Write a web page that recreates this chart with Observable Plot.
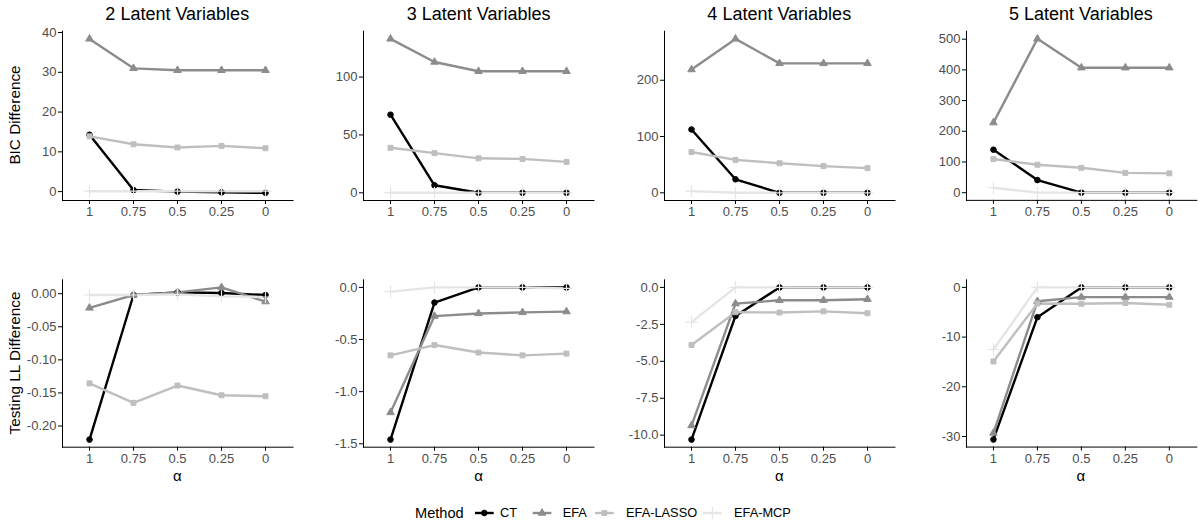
<!DOCTYPE html>
<html><head><meta charset="utf-8">
<script src="https://cdn.jsdelivr.net/npm/d3@7"></script>
<script src="https://cdn.jsdelivr.net/npm/@observablehq/plot@0.6"></script>
<style>
body{margin:0;background:#fff;}
#chart{position:relative;width:1198px;height:524px;overflow:hidden;font-family:"Liberation Sans",Arial,sans-serif;}
.panel{position:absolute;}
.panel svg{overflow:visible;}
g[aria-label$="tick label"]{fill:#4d4d4d;}
.lbl{position:absolute;white-space:nowrap;color:#000;}
</style></head>
<body><div id="chart"></div>
<script>
// ---------- data ----------
const alphaLabels = ["1", "0.75", "0.5", "0.25", "0"];
const methods = ["CT", "EFA", "EFA-LASSO", "EFA-MCP"];
const panelTitles = ["2 Latent Variables", "3 Latent Variables", "4 Latent Variables", "5 Latent Variables"];
const methodColors = ["#000000", "#8c8c8c", "#bfbfbf", "#e5e5e5"];
const methodSymbols = ["circle", "triangle", "square", "plus"];

// BIC Difference: one row per panel (2..5 latent variables), values at alpha 1, 0.75, 0.5, 0.25, 0
const bicCT = [
  [14.3, 0.4, 0.0, -0.2, -0.3],
  [67.5, 6.5, 0, 0, 0],
  [112.5, 24, 0, 0, 0],
  [140, 41, 0, 0, 0]
];
const bicEFA = [
  [38.4, 31.0, 30.5, 30.5, 30.5],
  [133, 113, 105, 105, 105],
  [219, 273.5, 230, 230, 230],
  [228, 501, 407, 407, 407]
];
const bicLASSO = [
  [13.9, 11.9, 11.1, 11.5, 10.9],
  [38.9, 34.3, 29.8, 29.3, 26.7],
  [72.5, 58.5, 52.5, 47.5, 43.8],
  [109.5, 91, 81, 64.5, 63]
];
const bicMCP = [
  [0.1, 0.1, 0.1, 0.1, 0.1],
  [0.1, 0, 0, 0, 0],
  [3, 0, 0, 0, 0],
  [16, 0, 0, 0, 0]
];

// Testing LL Difference
const llCT = [
  [-0.2205, -0.002, 0.002, 0.001, -0.002],
  [-1.46, -0.145, 0, 0, 0],
  [-10.3, -1.93, 0, 0, 0],
  [-30.6, -6.0, 0, 0, 0]
];
const llEFA = [
  [-0.0215, -0.002, 0.002, 0.0095, -0.012],
  [-1.2, -0.275, -0.25, -0.24, -0.232],
  [-9.35, -1.1, -0.87, -0.87, -0.8],
  [-29.3, -2.8, -1.95, -1.95, -1.95]
];
const llLASSO = [
  [-0.1355, -0.165, -0.1388, -0.1535, -0.155],
  [-0.652, -0.553, -0.625, -0.652, -0.635],
  [-3.9, -1.68, -1.7, -1.62, -1.75],
  [-14.9, -3.25, -3.3, -3.15, -3.5]
];
const llMCP = [
  [-0.002, -0.002, -0.001, -0.004, -0.005],
  [-0.04, 0, 0, 0, -0.01],
  [-2.35, 0, 0, 0, 0],
  [-12.5, 0, 0, 0, 0]
];

const bicTicks = [[0, 10, 20, 30, 40], [0, 50, 100], [0, 100, 200], [0, 100, 200, 300, 400, 500]];
const bicDecimals = [0, 0, 0, 0];
const llTicks = [[-0.20, -0.15, -0.10, -0.05, 0], [-1.5, -1.0, -0.5, 0], [-10, -7.5, -5, -2.5, 0], [-30, -20, -10, 0]];
const llDecimals = [2, 1, 1, 0];

const rowLabels = ["BIC Difference", "Testing LL Difference"];
const xLabel = "α";
const legendTitle = "Method";

// ---------- layout ----------
const chart = document.getElementById("chart");
const FONT = '"Liberation Sans", Arial, sans-serif';
const panelLeft = [62, 363.3, 664, 965.7];
const PW = 230.5;
const rowGeom = [
  {svgTop: 0, H: 228, top: 30.7, bottom: 200},
  {svgTop: 250, H: 240, top: 279.3, bottom: 446.7}
];

function addPanel(seriesList, ticks, dec, row, col) {
  const rows = [];
  methods.forEach((m, mi) => {
    seriesList[mi][col].forEach((v, i) => rows.push({method: m, alpha: alphaLabels[i], value: v}));
  });
  const ext = d3.extent(rows, d => d.value);
  const pad = (ext[1] - ext[0]) * 0.05;
  const g = rowGeom[row];
  const ML = 60, MR = 2;
  const plot = Plot.plot({
    width: ML + PW + MR,
    height: g.H,
    marginLeft: ML,
    marginRight: MR,
    marginTop: g.top - g.svgTop,
    marginBottom: g.svgTop + g.H - g.bottom,
    style: {fontFamily: FONT, fontSize: "13px", color: "#000", background: "none", overflow: "visible"},
    x: {type: "point", domain: alphaLabels, padding: 0.6, line: true, tickSize: 4, tickPadding: 2.5, label: null},
    y: {domain: [ext[0] - pad, ext[1] + pad], ticks: ticks, tickFormat: d => d.toFixed(dec), line: true, tickSize: 4, tickPadding: 2, label: null},
    color: {domain: methods, range: methodColors},
    symbol: {domain: methods, range: methodSymbols},
    marks: [
      Plot.lineY(rows, {x: "alpha", y: "value", stroke: "method", z: "method", strokeWidth: 2.4}),
      Plot.dot(rows.filter(d => d.method !== "EFA-MCP"), {x: "alpha", y: "value", fill: "method", stroke: "method", symbol: "method", r: 2.8, strokeWidth: 1}),
      Plot.dot(rows.filter(d => d.method === "EFA-MCP"), {x: "alpha", y: "value", stroke: "method", symbol: "method", r: 4, strokeWidth: 1.2})
    ]
  });
  const wrap = document.createElement("div");
  wrap.className = "panel";
  wrap.style.left = (panelLeft[col] - ML) + "px";
  wrap.style.top = g.svgTop + "px";
  wrap.appendChild(plot);
  chart.appendChild(wrap);
}

function addLabel(text, x, y, size, rotate) {
  const d = document.createElement("div");
  d.className = "lbl";
  d.textContent = text;
  d.style.fontSize = size + "px";
  d.style.lineHeight = size + "px";
  d.style.left = x + "px";
  d.style.top = y + "px";
  d.style.transform = "translate(-50%,-50%)" + (rotate ? " rotate(-90deg)" : "");
  chart.appendChild(d);
}

for (let c = 0; c < 4; c++) {
  addPanel([bicCT, bicEFA, bicLASSO, bicMCP], bicTicks[c], bicDecimals[c], 0, c);
  addPanel([llCT, llEFA, llLASSO, llMCP], llTicks[c], llDecimals[c], 1, c);
  const cx = panelLeft[c] + PW / 2;
  addLabel(panelTitles[c], cx, 20 - 0.3465 * 18, 18, false);
  addLabel(xLabel, cx, 480 - 0.3465 * 15, 15, false);
}
addLabel(rowLabels[0], 20 - 0.3465 * 15.3, (30.7 + 200) / 2, 15.3, true);
addLabel(rowLabels[1], 20 - 0.3465 * 15.3, (279.3 + 446.7) / 2, 15.3, true);

// ---------- legend ----------
const legendY = 513;
const keyX = [475, 532.7, 595, 703];
const keyW = 18.7;
const textX = [500, 562.7, 626, 734];
const leg = d3.select(chart).append("svg")
  .attr("width", 1198).attr("height", 30)
  .style("position", "absolute").style("left", "0px").style("top", (legendY - 15) + "px")
  .style("font-family", FONT);
leg.append("text").attr("x", 415).attr("y", 15).attr("dy", "0.35em")
  .attr("font-size", 14.6).attr("fill", "#000").text(legendTitle);
const symMap = {circle: d3.symbolCircle, triangle: d3.symbolTriangle, square: d3.symbolSquare, plus: d3.symbolPlus};
methods.forEach((m, i) => {
  const gk = leg.append("g");
  gk.append("line").attr("x1", keyX[i]).attr("x2", keyX[i] + keyW).attr("y1", 15).attr("y2", 15)
    .attr("stroke", methodColors[i]).attr("stroke-width", 2.4);
  const isPlus = methodSymbols[i] === "plus";
  const r = isPlus ? 4 : 2.8;
  gk.append("path").attr("transform", `translate(${keyX[i] + keyW / 2},15)`)
    .attr("d", d3.symbol(symMap[methodSymbols[i]], Math.PI * r * r)())
    .attr("fill", isPlus ? "none" : methodColors[i]).attr("stroke", methodColors[i])
    .attr("stroke-width", isPlus ? 1.2 : 1);
  gk.append("text").attr("x", textX[i]).attr("y", 15).attr("dy", "0.35em")
    .attr("font-size", 12.8).attr("fill", "#000").text(m);
});
</script></body></html>
